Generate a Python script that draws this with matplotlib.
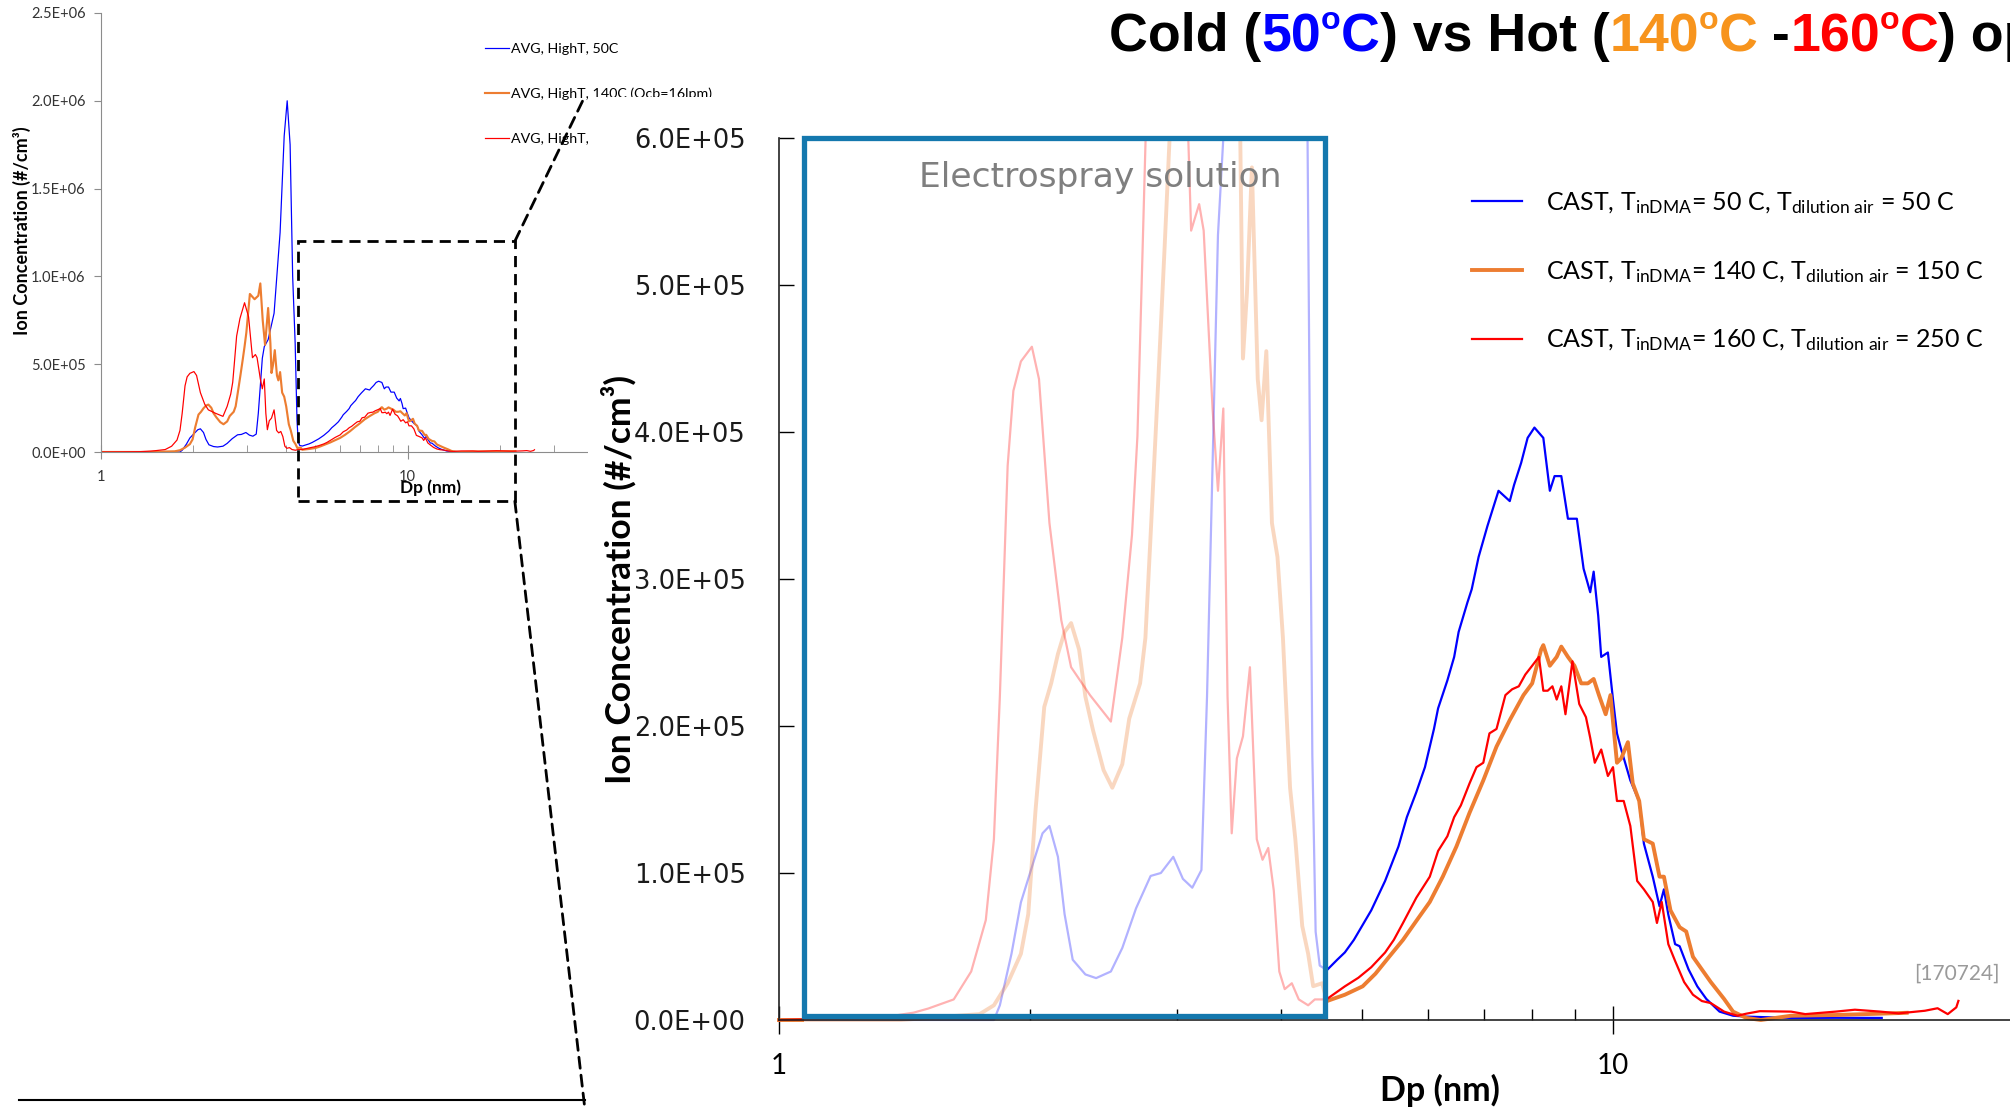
import numpy as np
import matplotlib
matplotlib.use("Agg")
import matplotlib.pyplot as plt
from matplotlib.patches import Rectangle, ConnectionPatch
from matplotlib.lines import Line2D
from matplotlib.text import Annotation
from matplotlib.ticker import FixedLocator, NullFormatter

plt.rcParams['font.family'] = ['Lato', 'DejaVu Sans']
plt.rcParams['mathtext.fontset'] = 'custom'
plt.rcParams['mathtext.rm'] = 'Lato'
plt.rcParams['mathtext.it'] = 'Lato:italic'
plt.rcParams['mathtext.bf'] = 'Lato:bold'

W, H = 2010, 1110

# particle diameter (nm) and ion concentration (thousand #/cm3)
dp_blue = [1.00, 1.30, 1.60, 1.81, 1.84, 1.90, 1.95, 2.01, 2.07, 2.11, 2.16, 2.20, 2.25, 2.33, 2.40,
           2.50, 2.58, 2.68, 2.79, 2.87, 2.97, 3.05, 3.13, 3.21, 3.26, 3.31, 3.36, 3.41, 3.51, 3.67,
           3.84, 3.96, 4.05, 4.14, 4.22, 4.30, 4.36, 4.40, 4.45, 4.54, 4.67, 4.77, 4.89, 5.13, 5.33,
           5.53, 5.66, 5.81, 5.95, 6.10, 6.17, 6.33, 6.45, 6.53, 6.69, 6.77, 6.90, 7.07, 7.29, 7.52,
           7.61, 7.76, 7.90, 8.05, 8.25, 8.40, 8.51, 8.67, 8.83, 9.05, 9.22, 9.39, 9.48, 9.60, 9.68,
           9.86, 10.00, 10.11, 10.23, 10.49, 10.69, 10.75, 10.89, 11.16, 11.37, 11.51, 11.65, 11.87, 12.02, 12.32,
           12.62, 12.94, 13.42, 13.93, 14.45, 16.35, 18.50, 21.00]
conc_blue_k = [0, 0, 0, 0, 10, 45, 80, 104, 127, 132, 111, 72, 41, 31, 28.5,
               33, 49, 76, 98, 100, 111, 96, 90, 102, 220, 377, 534, 600, 640, 790,
               1250, 1800, 2000, 1750, 1000, 620, 180, 60, 37, 34, 41, 46, 54.5, 74.6, 94.6,
               118, 138, 155, 172, 198, 212, 231, 247, 264, 284, 293, 315, 336, 360, 353,
               364, 379, 396, 403, 396, 360, 370, 370, 341, 341, 307, 291, 305, 275, 247,
               250, 218, 195, 184, 163, 152, 149, 120, 97.5, 77.4, 88.9, 71.7, 51.6, 50.2, 34.4,
               22.9, 14.3, 5.7, 2.9, 2.3, 1.4, 1.5, 1.4]

dp_orange = [1.00, 1.40, 1.74, 1.81, 1.88, 1.95, 1.99, 2.03, 2.08, 2.12, 2.16, 2.20, 2.24, 2.29, 2.33,
             2.38, 2.45, 2.51, 2.58, 2.63, 2.71, 2.75, 2.79, 2.85, 2.90, 2.94, 2.98, 3.06, 3.17, 3.26,
             3.31, 3.37, 3.43, 3.51, 3.57, 3.60, 3.64, 3.69, 3.75, 3.79, 3.84, 3.90, 3.96, 4.02, 4.10,
             4.16, 4.24, 4.31, 4.37, 4.48, 4.54, 4.77, 5.01, 5.19, 5.39, 5.60, 5.81, 6.03, 6.25, 6.49,
             6.73, 6.99, 7.25, 7.52, 7.81, 8.00, 8.20, 8.25, 8.40, 8.56, 8.67, 8.83, 8.99, 9.16, 9.33,
             9.48, 9.62, 9.80, 9.93, 10.11, 10.23, 10.42, 10.56, 10.75, 10.89, 11.16, 11.37, 11.51, 11.72, 12.02,
             12.24, 12.47, 12.78, 13.10, 13.59, 13.93, 14.45, 15.04, 16.35, 18.49, 20.92, 22.50]
conc_orange_k = [0, 0, 4, 10, 25, 45, 72, 142, 213, 229, 249, 264, 270, 252, 220,
                 197, 170, 158, 174, 205, 229, 260, 330, 436, 526, 600, 680, 900, 870, 890,
                 960, 750, 610, 820, 620, 450, 495, 580, 436, 408, 455, 338, 315, 260, 158,
                 123, 64, 45, 23, 25, 12.9, 17.2, 22.9, 31.5, 43, 54.5, 67.4, 80.3, 97.5, 118,
                 141, 163, 186, 204, 221, 229, 252, 255, 241, 247, 254, 247, 241, 229, 229,
                 232, 221, 208, 221, 175, 178, 189, 161, 149, 123, 120, 97.5, 97.5, 74.6, 63.1,
                 60.2, 43, 34.4, 25.8, 14.3, 5.7, 1.4, 0, 2.9, 3.4, 4.3, 4.9]

dp_red = [1.00, 1.20, 1.34, 1.45, 1.51, 1.62, 1.70, 1.77, 1.81, 1.84, 1.88, 1.91, 1.95, 2.01, 2.05,
          2.11, 2.18, 2.24, 2.36, 2.50, 2.58, 2.65, 2.69, 2.72, 2.77, 2.84, 2.94, 3.03, 3.08, 3.12,
          3.19, 3.23, 3.31, 3.36, 3.41, 3.45, 3.49, 3.54, 3.60, 3.67, 3.74, 3.80, 3.86, 3.92, 3.98,
          4.04, 4.12, 4.20, 4.31, 4.39, 4.48, 4.54, 4.77, 4.95, 5.13, 5.33, 5.46, 5.60, 5.81, 6.03,
          6.17, 6.33, 6.45, 6.57, 6.73, 6.86, 6.99, 7.11, 7.25, 7.43, 7.57, 7.71, 7.85, 8.00, 8.15,
          8.25, 8.35, 8.46, 8.56, 8.67, 8.77, 8.94, 9.11, 9.28, 9.39, 9.51, 9.68, 9.86, 10.00, 10.11,
          10.30, 10.49, 10.69, 10.89, 11.16, 11.29, 11.44, 11.65, 11.87, 12.17, 12.47, 12.78, 13.10, 13.59, 14.10,
          14.45, 15.00, 16.35, 17.00, 18.49, 19.50, 20.92, 22.00, 23.66, 24.50, 25.20, 25.80, 25.95]
conc_red_k = [0, 1, 2, 5, 7.8, 14, 33, 68, 123, 220, 377, 428, 448, 458, 436,
              338, 272, 240, 221, 203, 260, 330, 397, 495, 660, 760, 850, 770, 640, 537,
              555, 537, 416, 360, 416, 220, 127, 178, 193, 240, 123, 109, 117, 88, 33,
              21, 25, 14, 10, 14, 14, 14.3, 22.9, 28.7, 35.9, 45.9, 54.5, 66, 83.2, 97.5,
              115, 125, 138, 146, 161, 172, 175, 195, 198, 221, 225, 227, 235, 241, 247,
              224, 224, 227, 218, 227, 208, 244, 215, 206, 192, 175, 184, 166, 172, 149,
              149, 132, 94.6, 88.9, 80.3, 66, 80.3, 51.6, 40.2, 25.8, 17.2, 12.9, 11.5, 5.7, 2.9,
              4.3, 6, 5.7, 4, 5.7, 7, 5.7, 4.5, 6.3, 8, 4, 8.6, 13]

small_labels = ["AVG, HighT, 50C", "AVG, HighT, 140C (Ocb=16lpm)", "AVG, HighT, 160C"]
main_labels = [r"CAST, T$_\mathregular{inDMA}$= 50 C, T$_\mathregular{dilution\ air}$ = 50 C",
               r"CAST, T$_\mathregular{inDMA}$= 140 C, T$_\mathregular{dilution\ air}$ = 150 C",
               r"CAST, T$_\mathregular{inDMA}$= 160 C, T$_\mathregular{dilution\ air}$ = 250 C"]
small_yticks = [0, 5e5, 1.0e6, 1.5e6, 2.0e6, 2.5e6]
main_yticks = [0, 1e5, 2e5, 3e5, 4e5, 5e5, 6e5]

colors = ['#0000FF', '#ED7D31', '#FF0000']
widths = [1.6, 2.8, 1.6]
series = [(np.array(dp_blue), np.array(conc_blue_k) * 1e3),
          (np.array(dp_orange), np.array(conc_orange_k) * 1e3),
          (np.array(dp_red), np.array(conc_red_k) * 1e3)]

fig = plt.figure(figsize=(W / 100, H / 100), dpi=100)

# ---------- small overview chart (top left) ----------
ax0 = fig.add_axes([101 / W, 1 - 452 / H, 613 / W, 439 / H])
ax0.set_zorder(1)
for (d, c), col, lw, lab in zip(series, colors, widths, small_labels):
    ax0.plot(d, c, color=col, lw=lw * 0.55, label=lab)
ax0.set_xscale('log')
ax0.set_xlim(1, 100)
ax0.set_ylim(0, 2.5e6)
ax0.set_yticks(small_yticks)
ax0.set_yticklabels(['%.1E' % v for v in small_yticks])
ax0.set_xticks([1, 10])
ax0.set_xticklabels(['1', '10'])
ax0.xaxis.set_minor_locator(FixedLocator([2, 3, 4, 5, 6, 7, 8, 9, 20, 30, 40, 50, 60, 70, 80, 90]))
ax0.xaxis.set_minor_formatter(NullFormatter())
for s in ['top', 'right']:
    ax0.spines[s].set_visible(False)
for s in ['left', 'bottom']:
    ax0.spines[s].set_color('#8C8C8C')
ax0.tick_params(axis='y', direction='out', length=5, color='#8C8C8C', labelsize=10.5, pad=6, labelcolor='#333333')
ax0.tick_params(axis='x', which='major', direction='inout', length=10, color='#8C8C8C', labelsize=10.5, pad=8,
                labelcolor='#333333')
ax0.tick_params(axis='x', which='minor', direction='in', length=5, color='#8C8C8C')
ax0.set_ylabel('Ion Concentration (#/cm³)', fontsize=13, fontweight='bold')
ax0.yaxis.set_label_coords(-0.114, 0.503)
ax0.set_xlabel('Dp (nm)', fontsize=12.5, fontweight='bold')
ax0.xaxis.set_label_coords(0.538, -0.062)
ax0.legend(loc='upper left', bbox_to_anchor=(485 / W, 1 - 43 / H), bbox_transform=fig.transFigure,
           frameon=False, fontsize=10.3, handlelength=1.7, handletextpad=0.1, labelspacing=2.3,
           borderpad=0, borderaxespad=0)

# dashed zoom box on the overview
zoom_x = (4.4, 22.4)
zoom_y = (-2.8e5, 1.2e6)
ax0.add_patch(Rectangle((zoom_x[0], zoom_y[0]), zoom_x[1] - zoom_x[0], zoom_y[1] - zoom_y[0],
                        fill=False, ec='black', lw=2, ls=(0, (4, 2.5)), clip_on=False, zorder=5))

# white panel that the enlarged chart sits on
fig.add_artist(Rectangle((588 / W, 0), 1 - 588 / W, 1 - 97 / H, transform=fig.transFigure,
                         fc='white', ec='none', zorder=2))

for ya, yb in [(zoom_y[1], 1 - 96 / H), (zoom_y[0], 0.0)]:
    con = ConnectionPatch(xyA=(zoom_x[1], ya), coordsA=ax0.transData,
                          xyB=(585 / W, yb), coordsB=fig.transFigure,
                          color='black', lw=2, ls=(0, (4, 2.5)), zorder=4)
    fig.add_artist(con)
fig.add_artist(Line2D([19 / W, 585 / W], [1 - 1100 / H, 1 - 1100 / H], transform=fig.transFigure,
                      color='black', lw=1.5, zorder=4))

# ---------- enlarged chart ----------
ax = fig.add_axes([779 / W, 1 - 1020 / H, 834 * np.log10(30) / W, 882 / H])
ax.set_zorder(3)
ax.patch.set_visible(False)
ax.set_xscale('log')
ax.set_xlim(1, 30)
ax.set_ylim(0, 6e5)

box_lo, box_hi = 1.07, 4.51
for (d, c), col, lw, lab in zip(series, colors, widths, main_labels):
    faded, = ax.plot(d, c, color=col, lw=lw, alpha=0.3)
    faded.set_clip_path(Rectangle((box_lo, -1e4), box_hi - box_lo, 6.1e5, transform=ax.transData))
    left, = ax.plot(d, c, color=col, lw=lw)
    left.set_clip_path(Rectangle((0.5, -1e4), box_lo - 0.5, 6.1e5, transform=ax.transData))
    right, = ax.plot(d, c, color=col, lw=lw, label=lab)
    right.set_clip_path(Rectangle((box_hi, -1e4), 100, 6.1e5, transform=ax.transData))

ax.add_patch(Rectangle((box_lo, 3e3), box_hi - box_lo, 6e5 - 3e3, fill=False, ec='#1478AE', lw=3.8,
                       clip_on=False, zorder=5))
ax.text(2.43, 5.73e5, 'Electrospray solution', ha='center', va='center', color='#7F7F7F',
        fontsize=24.8, family='DejaVu Sans')

for s in ['top', 'right']:
    ax.spines[s].set_visible(False)
for s in ['left', 'bottom']:
    ax.spines[s].set_color('#222222')
    ax.spines[s].set_linewidth(1.2)
ax.set_yticks(main_yticks)
ax.set_yticklabels(['%.1E' % v for v in main_yticks], family='DejaVu Sans')
ax.tick_params(axis='y', direction='in', length=11, width=1, pad=24, labelsize=18.5, labelcolor='#1a1a1a')
ax.set_xticks([1, 10])
ax.set_xticklabels(['1', '10'])
ax.xaxis.set_minor_locator(FixedLocator([2, 3, 4, 5, 6, 7, 8, 9]))
ax.xaxis.set_minor_formatter(NullFormatter())
ax.tick_params(axis='x', which='major', direction='inout', length=20, width=1, pad=14, labelsize=20)
ax.tick_params(axis='x', which='minor', direction='in', length=8, width=1)
ax.set_ylabel('Ion Concentration (#/cm³)', fontsize=25.5, fontweight='bold')
ax.yaxis.set_label_coords(-0.116, 0.5)
ax.set_xlabel('Dp (nm)', fontsize=24.5, fontweight='bold')
ax.xaxis.set_label_coords(0.5365, -0.061)

ax.legend(loc='upper left', bbox_to_anchor=(1472 / W, 1 - 190 / H), bbox_transform=fig.transFigure,
          frameon=False, fontsize=18, handlelength=2.0, handletextpad=0.95, labelspacing=1.72,
          borderpad=0, borderaxespad=0)

fig.text(2000 / W, 1 - 974 / H, '[170724]', ha='right', va='center', color='#9A9A9A', fontsize=15)

# ---------- title with coloured pieces ----------
t_blue, t_orange, t_red = '#0000FF', '#F7941D', '#FF0000'
title_parts = [("Cold (", 'black', False), ("50", t_blue, False), ("o", t_blue, True), ("C", t_blue, False),
               (") vs Hot (", 'black', False), ("140", t_orange, False), ("o", t_orange, True),
               ("C", t_orange, False), (" -", 'black', False), ("160", t_red, False), ("o", t_red, True),
               ("C", t_red, False), (") op", 'black', False)]
tfont = dict(family='Liberation Sans', fontweight='bold')
base = fig.text(1109 / W, 1 - 51 / H, title_parts[0][0], color=title_parts[0][1], fontsize=38.7,
                va='baseline', zorder=6, **tfont)
prev = base
for s, col, sup in title_parts[1:]:
    ann = Annotation(s, xy=(1, 0), xycoords=(prev, base), xytext=(0, 18.9 if sup else 0),
                     textcoords='offset points', va='bottom', ha='left', color=col,
                     fontsize=23.2 if sup else 38.7, annotation_clip=False, zorder=6, **tfont)
    fig.add_artist(ann)
    prev = ann

fig.savefig('out.png', dpi=100)
